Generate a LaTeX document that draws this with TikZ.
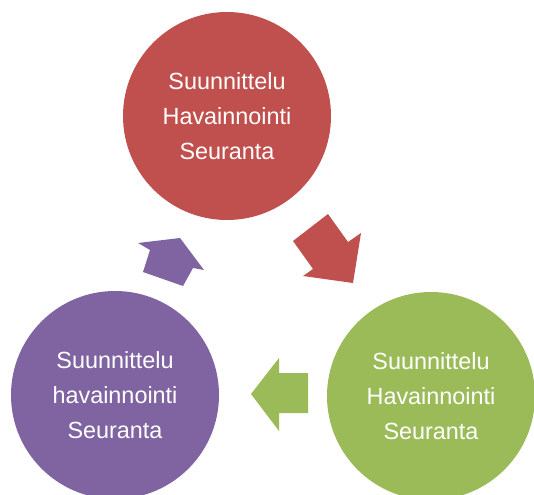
\documentclass[tikz,border=0pt]{standalone}
\usepackage{fontspec}
\setmainfont{Liberation Sans}
\usepackage{xcolor}
\usepackage{tikz}
\usetikzlibrary{positioning,calc}

\definecolor{cyclered}{HTML}{C0504D}
\definecolor{cyclegreen}{HTML}{9BBB59}
\definecolor{cyclepurple}{HTML}{8064A2}

\tikzset{
	phase/.style={circle, minimum size=208pt, inner sep=0pt, text=white, align=center,
		font=\fontsize{23.4}{35}\selectfont},
	blockarrow/.style={draw=none}
}

\begin{document}
\begin{tikzpicture}[x=1pt, y=-1pt]
		\useasboundingbox (0,0) rectangle (534,494);
		\clip (0,0) rectangle (534,494);

		\node[phase, fill=cyclered] (plan) at (227,116) {Suunnittelu\\Havainnointi\\Seuranta};
		\node[phase, fill=cyclegreen] (check) at (431,396) {Suunnittelu\\Havainnointi\\Seuranta};
		\node[phase, fill=cyclepurple] (act) at (115,395) {Suunnittelu\\havainnointi\\Seuranta};

		% block arrows between the phases
		\fill[blockarrow, cyclered] (293,241) -- (328,214) -- (348,242) -- (361,233)
			-- (353,283) -- (303,276) -- (313,269) -- cycle;
		\fill[blockarrow, cyclegreen] (251,394) -- (279,358) -- (279,373) -- (308,373)
			-- (308,413) -- (279,413) -- (279,431) -- cycle;
		\fill[blockarrow, cyclepurple] (180,238) -- (204,270) -- (193,268) -- (183,286)
			-- (143,272) -- (150,250) -- (138,243) -- cycle;
	\end{tikzpicture}
\end{document}
